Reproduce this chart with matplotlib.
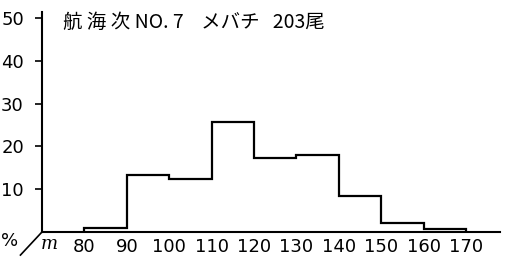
import matplotlib
matplotlib.use("Agg")
import matplotlib.pyplot as plt

# length classes (m = cm fork length) and percent of catch
bin_edges = [80, 90, 100, 110, 120, 130, 140, 150, 160, 170]
percent = [1.0, 13.4, 12.3, 25.8, 17.4, 18.0, 8.5, 2.0, 0.6]
x_ticks = [80, 90, 100, 110, 120, 130, 140, 150, 160, 170]
y_ticks = [10, 20, 30, 40, 50]
title_text = "航 海 次 NO. 7    メバチ   203尾"

plt.rcParams['font.family'] = ['Noto Sans CJK JP', 'DejaVu Sans']

fig = plt.figure(figsize=(5.09, 2.63), dpi=100)
ax = fig.add_axes([0.0825, 0.118, 0.9, 0.836])

ax.stairs(percent, bin_edges, baseline=0, color='black', linewidth=1.6)

ax.set_xlim(70, 178)
ax.set_ylim(0, 51.4)

ax.set_xticks(x_ticks)
ax.set_xticklabels([str(v) for v in x_ticks], fontsize=13,
                   family=['Liberation Sans Narrow', 'DejaVu Sans'])
ax.set_yticks(y_ticks)
ax.set_yticklabels([str(v) for v in y_ticks], fontsize=13, family=['DejaVu Sans'])
ax.tick_params(axis='x', length=0, pad=4)
ax.tick_params(axis='y', direction='out', length=5, width=1.2, pad=8)

for side in ['top', 'right']:
    ax.spines[side].set_visible(False)
for side in ['left', 'bottom']:
    ax.spines[side].set_linewidth(1.5)

ax.text(0.046, 0.955, title_text, transform=ax.transAxes, fontsize=14,
        ha='left', va='center')

# "%/m" corner label
ax.plot([0, -0.047], [0, -0.105], transform=ax.transAxes, color='black',
        linewidth=1.2, clip_on=False)
ax.text(-0.07, -0.043, "%", transform=ax.transAxes, fontsize=13,
        ha='center', va='center', family=['DejaVu Sans'])
ax.text(0.016, -0.057, "m", transform=ax.transAxes, fontsize=13,
        ha='center', va='center', style='italic', family=['DejaVu Serif'])

fig.savefig('out.png', dpi=100, facecolor='white')
